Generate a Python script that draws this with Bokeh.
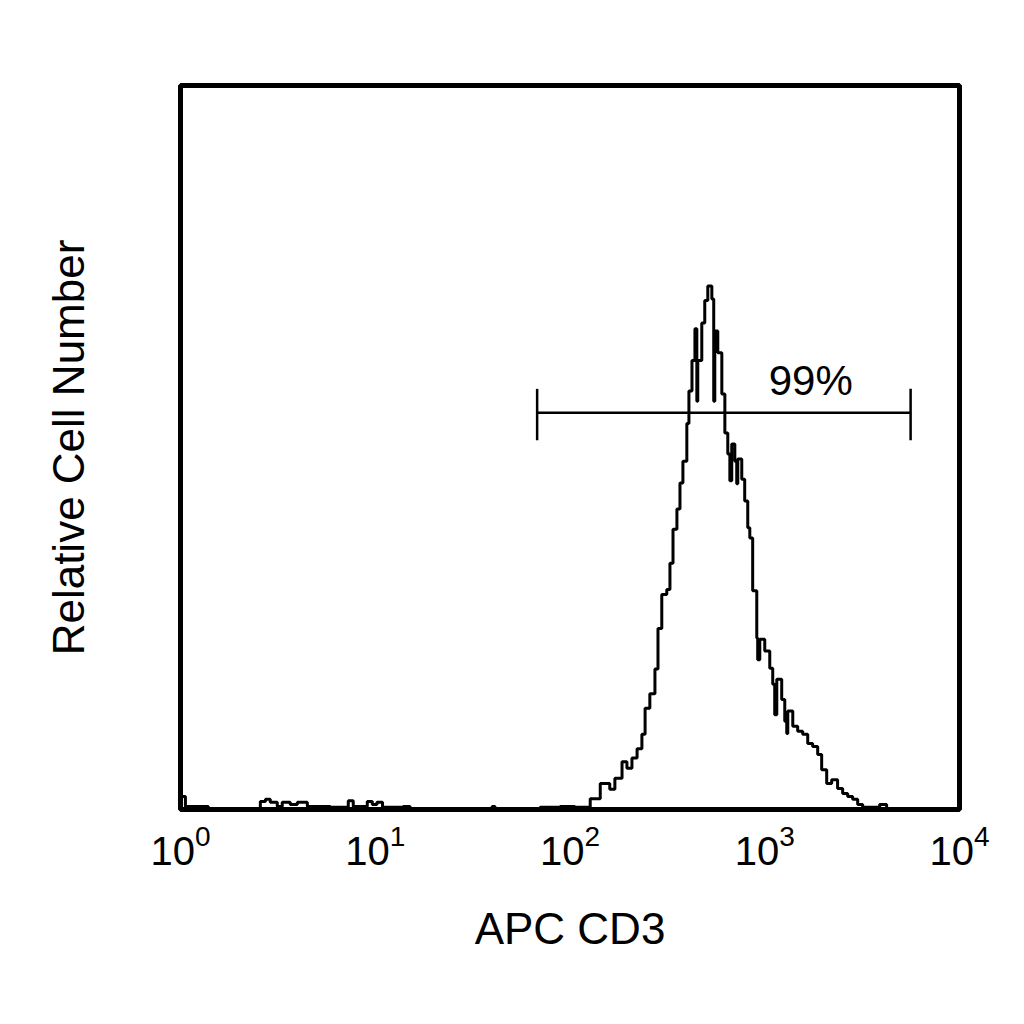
from bokeh.plotting import figure
from bokeh.models import Range1d, FixedTicker, Label, LogTickFormatter
from bokeh.embed import file_html
from bokeh.resources import INLINE

# histogram: APC CD3 channel value -> relative count (0-100)
apc = [1.0, 1.06, 1.39, 2.57, 2.73, 2.89, 3.14, 3.33, 3.66, 3.98,
       4.48, 5.88, 7.27, 7.71, 9.10, 9.66, 10.2, 10.9, 13.9, 15.1,
       39.8, 41.2, 70.2, 88.9, 106, 127, 143, 160, 170, 185,
       196, 208, 221, 234, 243, 257, 273, 283, 296, 314,
       326, 338, 354, 367, 380, 398, 408, 423, 438, 448,
       453, 475, 492, 510, 535, 547, 554, 574, 602, 624,
       646, 662, 677, 702, 718, 727, 762, 789, 818, 838,
       867, 910, 920, 943, 1000, 1061, 1099, 1125, 1153, 1222,
       1267, 1297, 1313, 1393, 1476, 1566, 1662, 1762, 1870, 1960,
       2080, 2206, 2366, 2512, 2665, 2827, 3000, 3183, 3890, 4225,
       10000]
cells = [1.8, 0.4, 0.1, 1.1, 1.4, 1.0, 0.4, 1.0, 0.7, 1.0,
         0.4, 0.3, 1.2, 0.4, 1.1, 0.7, 1.0, 0.3, 0.4, 0.1,
         0.4, 0.1, 0.3, 0.4, 0.3, 1.5, 3.6, 2.8, 4.3, 6.6,
         5.7, 7.1, 8.4, 10.4, 14.0, 16.0, 19.4, 25.0, 29.7, 30.4,
         34.0, 38.7, 41.5, 45.1, 48.1, 53.3, 57.8, 62.0, 66.4, 56.4,
         62.0, 67.2, 70.3, 72.3, 70.5, 56.4, 66.1, 63.1, 57.4, 52.0,
         49.1, 45.4, 50.5, 48.1, 45.0, 48.4, 45.6, 42.6, 38.9, 37.5,
         30.2, 23.7, 20.7, 23.5, 21.9, 19.5, 17.3, 13.1, 18.0, 15.2,
         12.2, 10.5, 13.6, 11.5, 10.8, 10.4, 9.1, 8.7, 7.6, 5.5,
         3.6, 4.1, 2.9, 2.2, 1.8, 1.4, 0.7, 0.3, 0.7, 0.1,
         0.1]

decades = [1, 10, 100, 1000, 10000]

gate_lo, gate_hi = 67.8, 5610
gate_y = 54.8
cap_lo, cap_hi = 51.0, 58.1
gate_text = "99%"
gate_text_x, gate_text_y = 1722, 59.3

FONT = "Liberation Sans"

p = figure(width=1000, height=1000, x_axis_type="log",
           x_range=Range1d(1, 10000), y_range=Range1d(0, 100),
           output_backend="svg", toolbar_location=None, tools="",
           min_border_left=180, min_border_right=41,
           min_border_top=85, min_border_bottom=191,
           x_axis_label="APC CD3", y_axis_label="Relative Cell Number")

p.grid.visible = False
p.background_fill_color = "white"
p.border_fill_color = "white"
p.outline_line_color = "black"
p.outline_line_width = 5

p.step(apc, cells, mode="after", line_color="black", line_width=3)

# gate bar with end caps
p.segment(x0=[gate_lo], y0=[gate_y], x1=[gate_hi], y1=[gate_y],
          line_color="black", line_width=2.5)
p.segment(x0=[gate_lo, gate_hi], y0=[cap_lo, cap_lo],
          x1=[gate_lo, gate_hi], y1=[cap_hi, cap_hi],
          line_color="black", line_width=2.5)
p.add_layout(Label(x=gate_text_x, y=gate_text_y, text=gate_text,
                   text_align="center", text_baseline="middle",
                   text_font=FONT, text_font_size="42px", text_color="black"))

xa = p.xaxis[0]
xa.ticker = FixedTicker(ticks=decades)
xa.formatter = LogTickFormatter()
xa.minor_tick_line_color = None
xa.major_tick_line_color = None
xa.major_tick_out = 0
xa.axis_line_color = None
xa.major_label_standoff = 14
xa.major_label_text_font = FONT
xa.major_label_text_font_size = "40px"
xa.major_label_text_color = "black"
xa.axis_label_text_font = FONT
xa.axis_label_text_font_size = "44px"
xa.axis_label_text_font_style = "normal"
xa.axis_label_text_color = "black"
xa.axis_label_standoff = 36

ya = p.yaxis[0]
ya.ticker = FixedTicker(ticks=[])
ya.minor_tick_line_color = None
ya.major_tick_line_color = None
ya.major_tick_out = 0
ya.axis_line_color = None
ya.axis_label_text_font = FONT
ya.axis_label_text_font_size = "44px"
ya.axis_label_text_font_style = "normal"
ya.axis_label_text_color = "black"
ya.axis_label_standoff = 88

open("out.html", "w").write(file_html(p, INLINE))
